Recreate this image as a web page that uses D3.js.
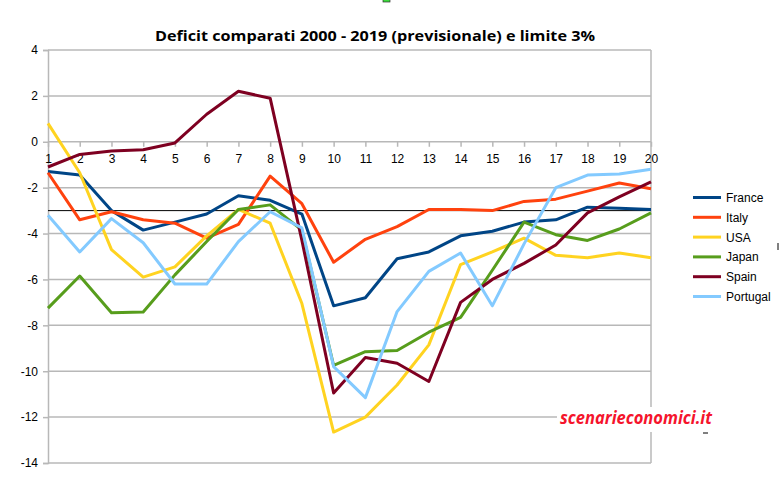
<!DOCTYPE html>
<html>
<head>
<meta charset="utf-8">
<script src="https://cdn.jsdelivr.net/npm/d3@7"></script>
<style>
  html, body { margin: 0; padding: 0; background: #fff; }
  svg { display: block; }
</style>
</head>
<body>
<svg id="chart" width="779" height="491"></svg>
<script>
const categories = ["1","2","3","4","5","6","7","8","9","10","11","12","13","14","15","16","17","18","19","20"];
const france   = [-1.3,-1.45,-3.0,-3.85,-3.5,-3.15,-2.35,-2.55,-3.15,-7.15,-6.8,-5.1,-4.8,-4.1,-3.9,-3.5,-3.4,-2.85,-2.9,-2.95];
const italy    = [-1.35,-3.4,-3.05,-3.4,-3.55,-4.2,-3.6,-1.5,-2.7,-5.25,-4.25,-3.7,-2.95,-2.95,-3.0,-2.6,-2.5,-2.15,-1.8,-2.05];
const usa      = [0.8,-1.35,-4.7,-5.9,-5.45,-4.1,-2.95,-3.55,-7.05,-12.65,-12.0,-10.6,-8.85,-5.35,-4.8,-4.2,-4.95,-5.05,-4.85,-5.05];
const japan    = [-7.25,-5.85,-7.45,-7.42,-5.8,-4.35,-2.95,-2.75,-3.85,-9.75,-9.15,-9.1,-8.3,-7.65,-5.6,-3.5,-4.05,-4.3,-3.8,-3.1];
const spain    = [-1.1,-0.55,-0.4,-0.35,-0.05,1.2,2.2,1.9,-4.3,-10.95,-9.4,-9.65,-10.45,-7.0,-6.0,-5.3,-4.5,-3.1,-2.4,-1.75];
const portugal = [-3.2,-4.8,-3.35,-4.4,-6.2,-6.2,-4.35,-3.05,-3.75,-9.8,-11.15,-7.4,-5.65,-4.85,-7.15,-4.45,-2.0,-1.45,-1.4,-1.2];
const seriesNames = ["France","Italy","USA","Japan","Spain","Portugal"];
const seriesColors = ["#004586","#ff420e","#ffd320","#579d1c","#7e0021","#83caff"];
const yTicks = [4,2,0,-2,-4,-6,-8,-10,-12,-14];
const limit = -3;
const title = "Deficit comparati 2000 - 2019 (previsionale) e limite 3%";
const watermark = "scenarieconomici.it";

const seriesValues = [france, italy, usa, japan, spain, portugal];

const svg = d3.select("#chart");
const L = 48, R = 651, T = 50, B = 463;

const x = d3.scalePoint().domain(categories).range([L, R]);
const y = d3.scaleLinear().domain([-14, 4]).range([B, T]);

// gridlines
svg.append("g").selectAll("line").data(yTicks).join("line")
  .attr("x1", L).attr("x2", R)
  .attr("y1", d => y(d)).attr("y2", d => y(d))
  .attr("stroke", "#b8b8b8").attr("stroke-width", 1.5);

// right border
svg.append("line").attr("x1", R).attr("x2", R).attr("y1", T).attr("y2", B)
  .attr("stroke", "#b8b8b8").attr("stroke-width", 1.5);

// y axis
const yAxis = d3.axisLeft(y).tickValues(yTicks).tickSize(5).tickPadding(5).tickFormat(d3.format("d"));
const gy = svg.append("g").attr("transform", `translate(${L},0)`).call(yAxis);
gy.select(".domain").attr("stroke", "#b8b8b8").attr("stroke-width", 1.5);
gy.selectAll(".tick line").attr("stroke", "#b8b8b8").attr("stroke-width", 1.5);
gy.selectAll(".tick text").attr("font-family", "Liberation Sans, Arial, sans-serif")
  .attr("font-size", 12).attr("fill", "#000").attr("x", -10).text(d => d < 0 ? "-" + Math.abs(d) : d);

// x axis on zero line
const xAxis = d3.axisBottom(x).tickSize(5).tickPadding(0);
const gx = svg.append("g").attr("transform", `translate(0,${y(0)})`).call(xAxis);
gx.select(".domain").remove();
gx.selectAll(".tick line").attr("stroke", "#b8b8b8").attr("stroke-width", 1.5);
gx.selectAll(".tick text").attr("font-family", "Liberation Sans, Arial, sans-serif")
  .attr("font-size", 12).attr("fill", "#000").attr("dy", null).attr("y", 21);

// limit line
svg.append("line").attr("x1", L).attr("x2", R)
  .attr("y1", y(limit)).attr("y2", y(limit))
  .attr("stroke", "#000").attr("stroke-width", 1);

// series
const line = d3.line().x((d, i) => x(categories[i])).y(d => y(d));
seriesValues.forEach((vals, k) => {
  svg.append("path").datum(vals)
    .attr("d", line)
    .attr("fill", "none")
    .attr("stroke", seriesColors[k])
    .attr("stroke-width", 3)
    .attr("stroke-linejoin", "round");
});

// title
svg.append("text").attr("x", 375).attr("y", 41)
  .attr("text-anchor", "middle")
  .attr("font-family", "Open Sans, Liberation Sans, sans-serif")
  .attr("font-weight", "bold").attr("font-size", 15)
  .attr("textLength", 440).attr("lengthAdjust", "spacingAndGlyphs")
  .attr("fill", "#000").text(title);

// legend
const lg = svg.append("g");
seriesNames.forEach((name, k) => {
  const yy = 197.5 + k * 19.8;
  lg.append("line").attr("x1", 693).attr("x2", 721).attr("y1", yy).attr("y2", yy)
    .attr("stroke", seriesColors[k]).attr("stroke-width", 3);
  lg.append("text").attr("x", 726).attr("y", yy + 4.5)
    .attr("font-family", "Liberation Sans, Arial, sans-serif")
    .attr("font-size", 12).attr("fill", "#000").text(name);
});

// watermark
svg.append("rect").attr("x", 557).attr("y", 407).attr("width", 160).attr("height", 25).attr("fill", "#fff");
svg.append("text").attr("x", 560).attr("y", 424)
  .attr("font-family", "Open Sans, Liberation Sans, sans-serif")
  .attr("font-weight", "bold").attr("font-style", "italic").attr("font-size", 17)
  .attr("textLength", 152).attr("lengthAdjust", "spacingAndGlyphs")
  .attr("fill", "#f5142c").text(watermark);

// small artefacts
svg.append("line").attr("x1", 703).attr("x2", 708).attr("y1", 433).attr("y2", 433).attr("stroke", "#000").attr("stroke-width", 1);
svg.append("rect").attr("x", 383).attr("y", -1).attr("width", 7).attr("height", 3).attr("fill", "#3cdc3c").attr("stroke", "#333").attr("stroke-width", 0.7);
svg.append("line").attr("x1", 778).attr("x2", 778).attr("y1", 243).attr("y2", 250).attr("stroke", "#000").attr("stroke-width", 1);
</script>
</body>
</html>
